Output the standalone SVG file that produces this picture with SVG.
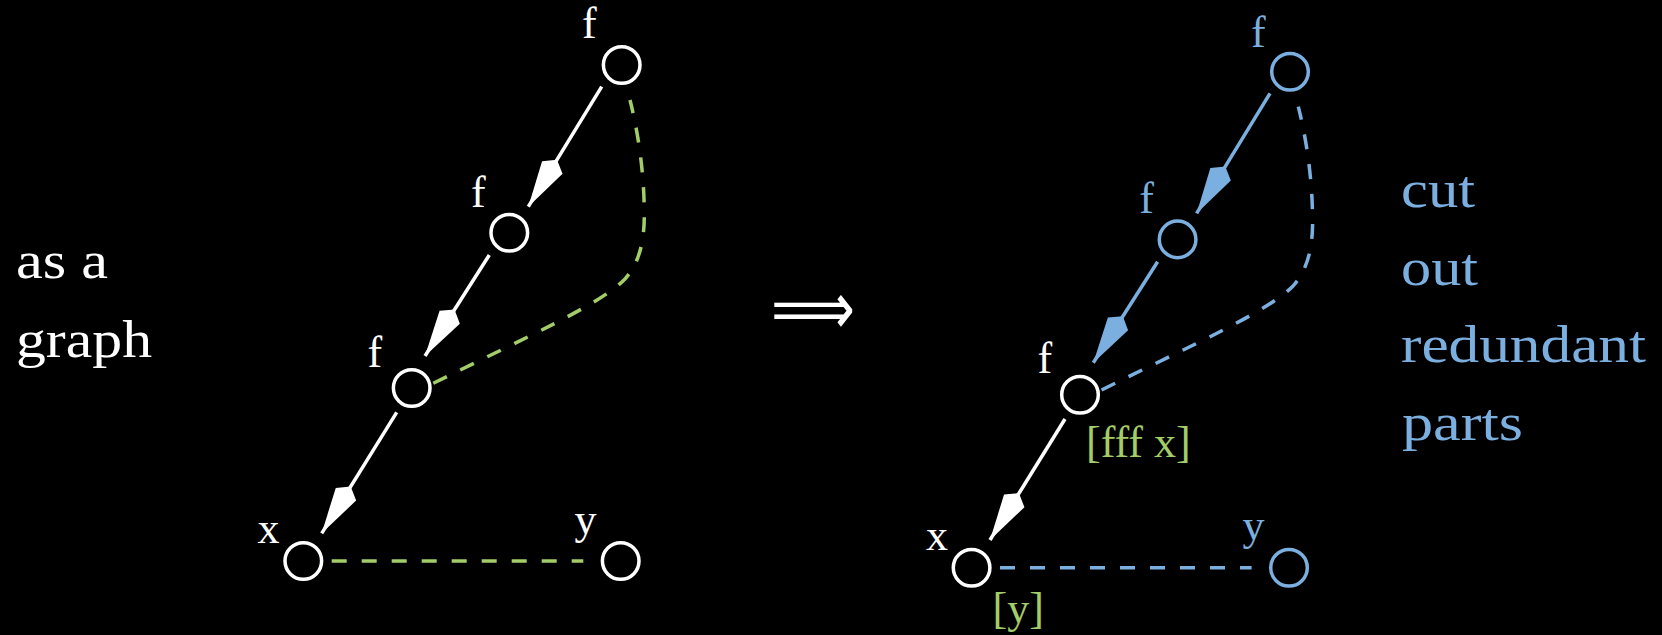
<svg xmlns="http://www.w3.org/2000/svg" width="1662" height="635" viewBox="0 0 1662 635">
<style>
.bg{fill:#000}
.txt{font-family:"Liberation Serif","Times New Roman",serif}
.big{font-size:52px}
.lab{font-size:44px}
.w{fill:#ffffff}
.b{fill:#7BAFDF}
.g{fill:#A3CD68}
.nw{fill:none;stroke:#ffffff;stroke-width:3.5}
.nb{fill:none;stroke:#7BAFDF;stroke-width:3.5}
.ew{fill:none;stroke:#ffffff;stroke-width:3.5;marker-end:url(#tipW)}
.eb{fill:none;stroke:#7BAFDF;stroke-width:3.5;marker-end:url(#tipB)}
.dg{fill:none;stroke:#A3CD68;stroke-width:3.5;stroke-dasharray:15 15}
.db{fill:none;stroke:#7BAFDF;stroke-width:3.5;stroke-dasharray:15 15}
</style>
<defs>
<marker id="tipW" markerUnits="userSpaceOnUse" viewBox="-57 -14 59 28" markerWidth="59" markerHeight="28" refX="0" refY="0" orient="auto" overflow="visible">
<path d="M0,0 L-46,-12 L-55,0 L-46,12 Z" fill="#ffffff"/>
</marker>
<marker id="tipB" markerUnits="userSpaceOnUse" viewBox="-57 -14 59 28" markerWidth="59" markerHeight="28" refX="0" refY="0" orient="auto" overflow="visible">
<path d="M0,0 L-46,-12 L-55,0 L-46,12 Z" fill="#7BAFDF"/>
</marker>
</defs>
<rect class="bg" x="0" y="0" width="1662" height="635"/>

<g id="caption-left">
<text class="txt big w" x="16" y="278" textLength="92" lengthAdjust="spacingAndGlyphs">as a</text>
<text class="txt big w" x="16" y="356.5" textLength="136" lengthAdjust="spacingAndGlyphs">graph</text>
</g>

<g id="implies">
<text x="771" y="334" font-family="DejaVu Sans, sans-serif" font-size="74" fill="#ffffff" textLength="84" lengthAdjust="spacingAndGlyphs">⟹</text>
</g>

<g id="caption-right">
<text class="txt big b" x="1401" y="206.5" textLength="74" lengthAdjust="spacingAndGlyphs">cut</text>
<text class="txt big b" x="1401" y="284.5" textLength="77" lengthAdjust="spacingAndGlyphs">out</text>
<text class="txt big b" x="1401" y="361.5" textLength="245" lengthAdjust="spacingAndGlyphs">redundant</text>
<text class="txt big b" x="1402" y="440" textLength="121" lengthAdjust="spacingAndGlyphs">parts</text>
</g>

<g id="connectors">
<line class="ew" x1="601.7" y1="86.7" x2="528.3" y2="206.7"/>
<line class="ew" x1="489.3" y1="255" x2="425" y2="356"/>
<line class="ew" x1="396.7" y1="412.3" x2="321.7" y2="533.3"/>
<path class="dg" d="M433.3,383.3 C520,340 600,305 625,279 C640,262 644.3,240 644.3,215 C644.3,180 640,140 630,100"/>
<line class="dg" x1="331.7" y1="561" x2="583.3" y2="561"/>

<line class="eb" x1="1270" y1="93.4" x2="1196.6" y2="213.4"/>
<line class="eb" x1="1157.6" y1="261.7" x2="1093.3" y2="362.7"/>
<line class="ew" x1="1065" y1="419" x2="990" y2="540"/>
<path class="db" d="M1101.6,390 C1188.3,346.7 1268.3,311.7 1293.3,285.7 C1308.3,268.7 1312.6,246.7 1312.6,221.7 C1312.6,186.7 1308.3,146.7 1298.3,106.7"/>
<line class="db" x1="1000" y1="567.7" x2="1251.6" y2="567.7"/>
</g>

<g id="L-f1"><circle class="nw" cx="621.7" cy="65" r="18.3"/><text class="txt lab w" x="582" y="38">f</text></g>
<g id="L-f2"><circle class="nw" cx="509.3" cy="232.7" r="18.3"/><text class="txt lab w" x="471" y="206.7">f</text></g>
<g id="L-f3"><circle class="nw" cx="411.7" cy="388" r="18.3"/><text class="txt lab w" x="367.5" y="366.7">f</text></g>
<g id="L-x"><circle class="nw" cx="303.3" cy="561" r="18.3"/><text class="txt lab w" x="257.5" y="543.3">x</text></g>
<g id="L-y"><circle class="nw" cx="620.7" cy="561" r="18.3"/><text class="txt lab w" x="574.5" y="533.5">y</text></g>

<g id="R-f1"><circle class="nb" cx="1290" cy="71.7" r="18.3"/><text class="txt lab b" x="1251" y="46.7">f</text></g>
<g id="R-f2"><circle class="nb" cx="1177.6" cy="239.4" r="18.3"/><text class="txt lab b" x="1139.3" y="213.3">f</text></g>
<g id="R-f3"><circle class="nw" cx="1080" cy="394.7" r="18.3"/><text class="txt lab w" x="1037.5" y="372.7">f</text><text class="txt lab g" x="1086" y="456.5">[fff x]</text></g>
<g id="R-x"><circle class="nw" cx="971.6" cy="567.7" r="18.3"/><text class="txt lab w" x="926" y="550">x</text><text class="txt lab g" x="992.5" y="623">[y]</text></g>
<g id="R-y"><circle class="nb" cx="1289" cy="567.7" r="18.3"/><text class="txt lab b" x="1242.5" y="540.2">y</text></g>
</svg>
